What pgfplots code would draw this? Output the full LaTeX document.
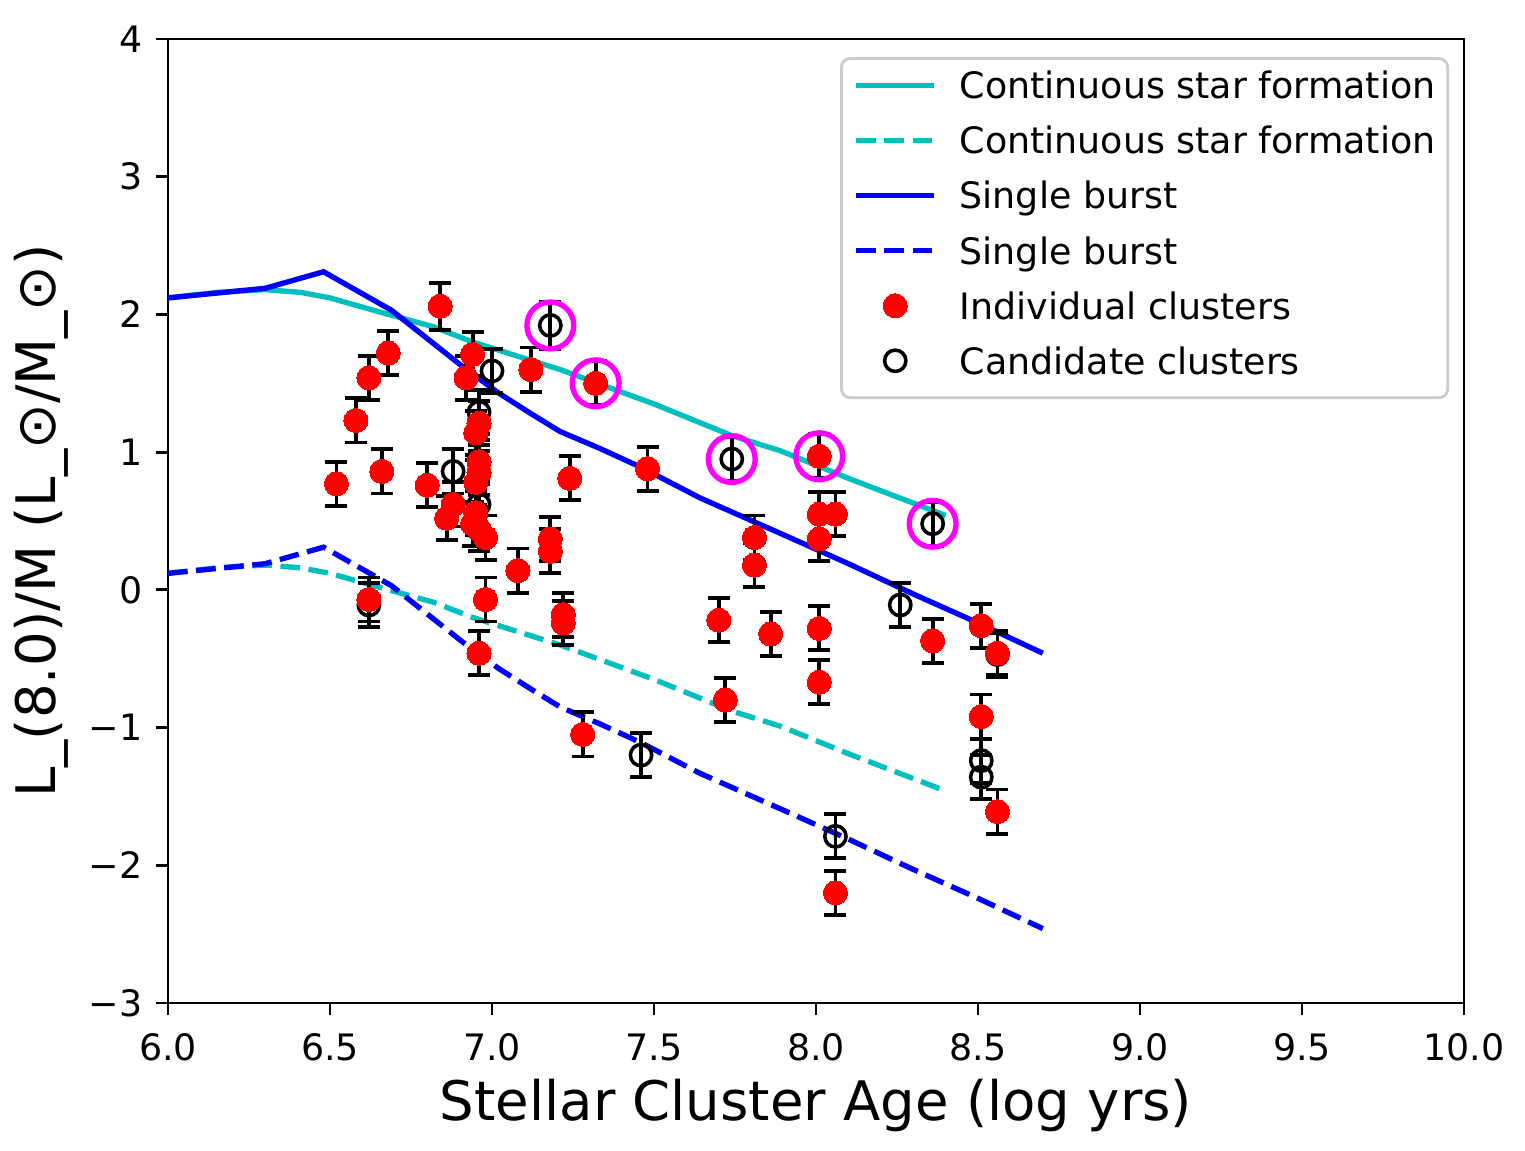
\documentclass[border=0pt]{standalone}
\usepackage{pgfplots}
\pgfplotsset{compat=1.18}
\usepackage{pgfplotstable}
\usepackage{fontspec}
\setmainfont{DejaVu Sans}
\definecolor{mplc}{rgb}{0,0.75,0.75}
\definecolor{mplb}{rgb}{0,0,1}
\definecolor{mplr}{rgb}{1,0,0}
\definecolor{mplm}{rgb}{1,0,1}
\pgfplotsset{
  linelegend/.style={legend image code/.code={\draw[##1] (0pt,3.74pt) -- (22pt,3.74pt);}},
  marklegend/.style={legend image code/.code={\draw[##1] plot coordinates {(11pt,3.74pt)};}},
}
\pgfplotstableread{
x y e
6.52 0.77 0.16
6.58 1.23 0.16
6.62 1.54 0.16
6.68 1.72 0.16
6.66 0.86 0.16
6.84 2.06 0.17
6.80 0.76 0.16
6.86 0.52 0.16
6.88 0.62 0.16
6.92 1.54 0.16
6.94 1.71 0.16
6.95 1.14 0.16
6.96 1.21 0.16
6.96 0.93 0.16
6.96 0.85 0.16
6.95 0.78 0.16
6.95 0.56 0.16
6.94 0.48 0.16
6.96 0.44 0.16
6.98 0.38 0.16
6.98 -0.07 0.16
6.96 -0.46 0.16
6.62 -0.07 0.16
7.08 0.14 0.16
7.12 1.60 0.16
7.18 0.37 0.16
7.18 0.28 0.16
7.22 -0.18 0.16
7.22 -0.24 0.16
7.24 0.81 0.16
7.32 1.50 0.16
7.28 -1.05 0.16
7.48 0.88 0.16
7.70 -0.22 0.16
7.72 -0.80 0.16
7.81 0.38 0.16
7.81 0.18 0.16
7.86 -0.32 0.16
8.01 0.97 0.16
8.01 0.55 0.16
8.06 0.55 0.16
8.01 0.37 0.16
8.01 -0.28 0.16
8.01 -0.67 0.16
8.06 -2.20 0.16
8.36 -0.37 0.16
8.51 -0.26 0.16
8.56 -0.46 0.16
8.51 -0.92 0.16
8.56 -1.61 0.16
}\individual
\pgfplotstableread{
x y e
6.62 -0.11 0.16
6.88 0.86 0.16
6.96 1.29 0.16
6.96 0.62 0.16
7.00 1.59 0.16
7.18 1.92 0.17
7.46 -1.20 0.16
7.74 0.95 0.16
8.06 -1.79 0.16
8.26 -0.11 0.16
8.36 0.48 0.16
8.51 -1.24 0.16
8.51 -1.36 0.16
8.56 -0.47 0.16
}\candidate
\begin{document}
\begin{tikzpicture}
\useasboundingbox (-47.33pt,-41.69pt) rectangle (382.27pt,282.55pt);
\begin{axis}[
  at={(0,0)}, anchor=south west,
  scale only axis, width=365.1pt, height=271.56pt,
  xmin=6, xmax=10, ymin=-3, ymax=4,
  xtick={6,6.5,7,7.5,8,8.5,9,9.5,10},
  xticklabels={6.0,6.5,7.0,7.5,8.0,8.5,9.0,9.5,10.0},
  ytick={-3,-2,-1,0,1,2,3,4},
  yticklabels={−3,−2,−1,0,1,2,3,4},
  /pgf/number format/assume math mode=true,
  tick align=outside, xtick pos=bottom, ytick pos=left,
  major tick length=3.5pt,
  every tick/.style={black, line width=0.8pt},
  axis line style={line width=0.8pt},
  tick label style={font=\fontsize{10.25pt}{12pt}\selectfont},
  xticklabel style={anchor=north, inner sep=0pt, yshift=-4.95pt},
  yticklabel style={anchor=east, inner sep=0pt, xshift=-3.5pt},
  xlabel={Stellar Cluster Age (log yrs)},
  ylabel={L\_(8.0)/M (L\_⊙/M\_⊙)},
  every axis x label/.style={at={(axis description cs:0.5,-0.1224)}, anchor=base, inner sep=0pt, font=\fontsize{15.35pt}{18pt}\selectfont},
  every axis y label/.style={at={(axis description cs:-0.0865,0.5)}, rotate=90, anchor=base, inner sep=0pt, font=\fontsize{15.35pt}{18pt}\selectfont},
  legend style={at={(axis description cs:0.9885,0.9813)}, anchor=north east,
    draw=black!20, line width=0.8pt, rounded corners=2.5pt, fill=white,
    font=\fontsize{10.25pt}{12pt}\selectfont,
    inner xsep=3.4pt, inner ysep=1.3pt, row sep=0pt,
    nodes={anchor=base west, inner xsep=0pt, inner ysep=0pt, text height=10.1pt, text depth=5.4pt},
    /tikz/every odd column/.append style={column sep=6.4pt}},
]
% continuous star formation (solid)
\addplot[mplc, line width=1.5pt, forget plot] coordinates {
(6.0,2.12)(6.15,2.16)(6.3,2.18)(6.41,2.16)(6.5,2.12)(6.65,2.02)(6.82,1.91)(6.94,1.80)(7.21,1.60)(7.5,1.35)(7.74,1.12)(7.89,1.01)(8.1,0.81)(8.4,0.54)};
% continuous star formation (dashed)
\addplot[mplc, line width=1.5pt, dash pattern=on 5.55pt off 2.4pt, forget plot] coordinates {
(6.0,0.12)(6.15,0.16)(6.3,0.18)(6.41,0.16)(6.5,0.12)(6.65,0.02)(6.82,-0.09)(6.94,-0.20)(7.21,-0.40)(7.5,-0.65)(7.74,-0.88)(7.89,-0.99)(8.1,-1.19)(8.4,-1.46)};
% single burst (solid)
\addplot[mplb, line width=1.5pt, forget plot] coordinates {
(6.0,2.12)(6.3,2.19)(6.48,2.31)(6.69,2.03)(6.91,1.62)(7.02,1.43)(7.12,1.28)(7.21,1.15)(7.33,1.03)(7.46,0.89)(7.64,0.67)(7.89,0.41)(8.10,0.19)(8.30,-0.03)(8.50,-0.24)(8.70,-0.46)};
% single burst (dashed)
\addplot[mplb, line width=1.5pt, dash pattern=on 5.55pt off 2.4pt, forget plot] coordinates {
(6.0,0.12)(6.3,0.19)(6.48,0.31)(6.69,0.03)(6.91,-0.38)(7.02,-0.57)(7.12,-0.72)(7.21,-0.85)(7.33,-0.97)(7.46,-1.11)(7.64,-1.33)(7.89,-1.59)(8.10,-1.81)(8.30,-2.03)(8.50,-2.24)(8.70,-2.46)};
% candidate clusters
\addplot[only marks, mark=o, mark size=3.0pt, mark options={black, line width=1.0pt, fill=none}, forget plot,
  error bars/.cd, y dir=both, y explicit,
  error bar style={black, line width=1.1pt},
  error mark options={black, line width=1.1pt, mark size=3.1pt, rotate=90}]
  table[x=x, y=y, y error=e] {\candidate};
% individual clusters
\addplot[only marks, mark=*, mark size=3.4pt, mark options={draw=mplr, fill=mplr, line width=0pt}, forget plot,
  error bars/.cd, y dir=both, y explicit,
  error bar style={black, line width=1.1pt},
  error mark options={black, line width=1.1pt, mark size=3.1pt, rotate=90}]
  table[x=x, y=y, y error=e] {\individual};
% highlighted clusters
\addplot[only marks, mark=o, mark size=6.6pt, mark options={mplm, line width=1.5pt, fill=none}, forget plot] coordinates {
(7.18,1.92)(7.32,1.50)(7.74,0.95)(8.01,0.97)(8.36,0.48)};
% legend
\addlegendimage{linelegend, mplc, line width=1.5pt}
\addlegendentry{Continuous star formation}
\addlegendimage{linelegend, mplc, line width=1.5pt, dash pattern=on 5.55pt off 2.4pt}
\addlegendentry{Continuous star formation}
\addlegendimage{linelegend, mplb, line width=1.5pt}
\addlegendentry{Single burst}
\addlegendimage{linelegend, mplb, line width=1.5pt, dash pattern=on 5.55pt off 2.4pt}
\addlegendentry{Single burst}
\addlegendimage{marklegend, only marks, mark=*, mark size=3.4pt, mark options={draw=mplr, fill=mplr, line width=0pt}}
\addlegendentry{Individual clusters}
\addlegendimage{marklegend, only marks, mark=o, mark size=3.0pt, mark options={black, line width=1.0pt, fill=none}}
\addlegendentry{Candidate clusters}
\end{axis}
\end{tikzpicture}
\end{document}
